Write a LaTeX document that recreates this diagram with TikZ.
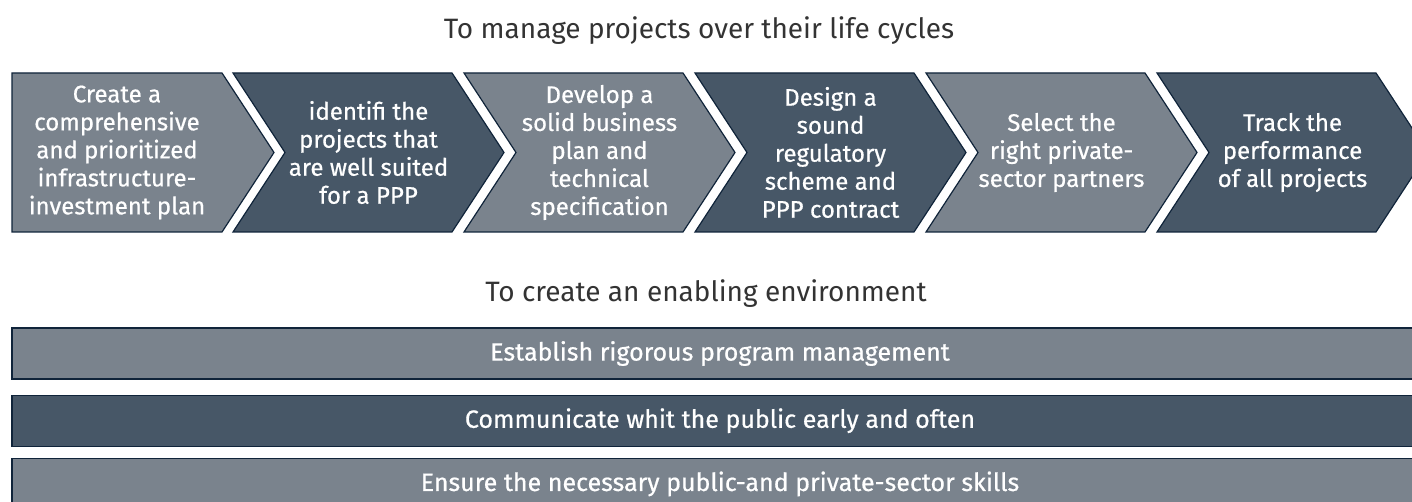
\documentclass[tikz,border=0pt]{standalone}
\usepackage{fontspec}
\setmainfont{Fira Sans}
\newfontfamily\stepfont{Fira Sans}[FakeBold=0.6]
\usetikzlibrary{positioning,calc}
\definecolor{ppLight}{HTML}{7A838D}
\definecolor{ppDark}{HTML}{475767}
\definecolor{ppEdge}{HTML}{10243A}
\definecolor{ppTitle}{HTML}{333333}
\tikzset{
  chev/.style={draw=ppEdge, line width=1.2pt, line join=miter},
  chevtext/.style={text=white, font=\stepfont\fontsize{24}{28}\selectfont, align=center, inner sep=0pt},
  bar/.style={
    draw=ppEdge, line width=1.2pt, minimum height=51pt, minimum width=1416pt,
    inner sep=0pt, text=white, font=\stepfont\fontsize{25}{30}\selectfont
  },
  heading/.style={text=ppTitle, font=\fontsize{28}{34}\selectfont, anchor=base}
}

\begin{document}
\begin{tikzpicture}[x=1pt, y=1pt]
  \useasboundingbox (0,0) rectangle (1412,502);
  \node[heading] (life) at (699,463) {To manage projects over their life cycles};
  % first step has a flat back
  \draw[chev, fill=ppLight] (12,429) -- (222,429) -- (274,349.5) -- (222,270) -- (12,270) -- cycle;
  \node[chevtext] (step1) at (117,349.5) {Create a\\comprehensive\\and prioritized\\infrastructure-\\investment plan};
  \foreach \l/\col/\txt/\nm in {
      233/ppDark/{identifi the\\projects that\\are well suited\\for a PPP}/step2,
      464/ppLight/{Develop a\\solid business\\plan and\\technical\\specification}/step3,
      695/ppDark/{Design a\\sound\\regulatory\\scheme and\\PPP contract}/step4,
      926/ppLight/{Select the\\right private-\\sector partners}/step5,
      1157/ppDark/{Track the\\performance\\of all projects}/step6} {
    \draw[chev, fill=\col] (\l,429) -- ++(219,0) -- ++(52,-79.5) -- ++(-52,-79.5)
      -- ++(-219,0) -- ++(52,79.5) -- cycle;
    \node[chevtext] (\nm) at (\l+135.5,349.5) {\txt};
  }
  \node[heading] (enable) at (706,200) {To create an enabling environment};
  \node[bar, fill=ppLight] (mgmt) at (720,148.5) {Establish rigorous program management};
  \node[bar, fill=ppDark, below=15pt of mgmt] (comm) {Communicate whit the public early and often};
  \node[bar, fill=ppLight, below=11pt of comm] (skills) {Ensure the necessary public-and private-sector skills};
\end{tikzpicture}
\end{document}
